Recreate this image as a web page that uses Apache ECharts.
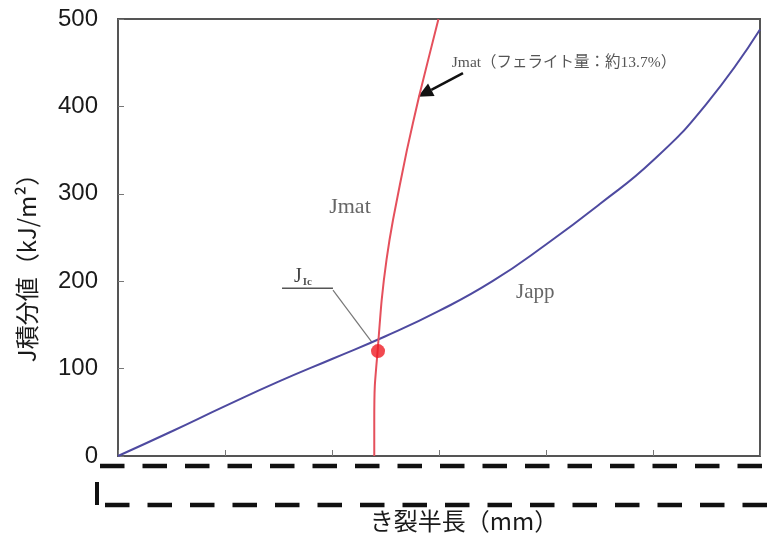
<!DOCTYPE html>
<html>
<head>
<meta charset="utf-8">
<script src="https://cdn.jsdelivr.net/npm/echarts@6/dist/echarts.min.js"></script>
<style>
html,body{margin:0;padding:0;background:#fff;}
#c{width:773px;height:538px;}
</style>
</head>
<body>
<div id="c"></div>
<script>
// ---- data ----
const yTicks = [0, 100, 200, 300, 400, 500];
const xTicks = [0, 1, 2, 3, 4, 5, 6];
const jappX = [0, 0.5, 1, 1.5, 2, 2.5, 3, 3.5, 4, 4.5, 5, 5.5, 6];
const jappY = [0, 28, 57, 85, 111, 137, 166, 200, 242, 288, 338, 403, 488];
const jmatX = [2.395, 2.395, 2.40, 2.427, 2.464, 2.51, 2.57, 2.70, 2.813, 2.995];
const jmatY = [0, 40, 80, 121, 178, 225, 270, 350, 411, 500];
const jicPoint = [2.43, 120];
const labels = {
  yName: 'J積分値（kJ/m²）',
  xName: 'き裂半長（mm）',
  jmat: 'Jmat',
  japp: 'Japp',
  jmatNote: 'Jmat（フェライト量：約13.7%）'
};

const chart = echarts.init(document.getElementById('c'), null, {renderer: 'canvas'});
const serif = "'Liberation Serif', 'DejaVu Serif', 'Noto Sans CJK JP', serif";
const sans = "'Liberation Sans', Arial, 'Noto Sans CJK JP', sans-serif";

chart.setOption({
  animation: false,
  backgroundColor: '#fff',
  grid: {left: 118, top: 19, right: 13, bottom: 82, show: true, borderColor: '#555', borderWidth: 2},
  xAxis: {
    type: 'value', min: xTicks[0], max: xTicks[xTicks.length - 1], interval: 1,
    axisLine: {lineStyle: {color: '#555', width: 2}},
    axisTick: {inside: true, length: 6, lineStyle: {color: '#777', width: 1}},
    axisLabel: {show: false},
    splitLine: {show: false}
  },
  yAxis: {
    type: 'value', min: yTicks[0], max: yTicks[yTicks.length - 1], interval: 100,
    axisLine: {show: true, lineStyle: {color: '#555', width: 2}},
    axisTick: {inside: true, length: 6, lineStyle: {color: '#777', width: 1}},
    axisLabel: {fontSize: 24, color: '#1a1a1a', margin: 20, fontFamily: sans},
    splitLine: {show: false}
  },
  series: [
    {
      type: 'line', name: 'Japp', data: jappX.map((x, i) => [x, jappY[i]]),
      smooth: 0.5, symbol: 'none', lineStyle: {color: '#4e4aa0', width: 2}, z: 3
    },
    {
      type: 'line', name: 'Jmat', data: jmatX.map((x, i) => [x, jmatY[i]]),
      smooth: 0.2, symbol: 'none', lineStyle: {color: '#e5505c', width: 2}, z: 4
    },
    {
      type: 'scatter', data: [jicPoint], symbolSize: 14,
      itemStyle: {color: '#ee1c24'}, z: 5
    }
  ]
});

function P(x, y) { return chart.convertToPixel({gridIndex: 0}, [x, y]); }

// annotation positions in data space
const jicLineA = P(1.533, 192), jicLineB = P(2.009, 192);
const leaderB = P(2.374, 130);
const arrowTail = P(3.224, 438), arrowTip = P(2.804, 411);
const noteAt = P(3.12, 450);
const jmatAt = P(2.168, 285);
const jappAt = P(3.90, 187);

const ang = Math.atan2(arrowTip[1] - arrowTail[1], arrowTip[0] - arrowTail[0]);
const hl = 15, hw = 7;
const baseX = arrowTip[0] - hl * Math.cos(ang), baseY = arrowTip[1] - hl * Math.sin(ang);
const head = [
  arrowTip,
  [baseX + hw * Math.sin(ang), baseY - hw * Math.cos(ang)],
  [baseX - hw * Math.sin(ang), baseY + hw * Math.cos(ang)]
];

const dashStyle = {stroke: '#111', lineWidth: 4.5, lineDash: [24.5, 18]};

chart.setOption({
  graphic: [
    // axis names
    {type: 'text', x: 27, y: 262, rotation: Math.PI / 2, style: {
      text: labels.yName, fill: '#1a1a1a', font: "24px 'Noto Sans CJK JP', sans-serif",
      textAlign: 'center', textVerticalAlign: 'middle'}},
    {type: 'text', x: 464, y: 521, style: {
      text: labels.xName, fill: '#1a1a1a', font: "24px 'Noto Sans CJK JP', sans-serif",
      textAlign: 'center', textVerticalAlign: 'middle'}},
    // broken-axis dashed decoration
    {type: 'line', shape: {x1: 100, y1: 466, x2: 766, y2: 466}, style: dashStyle},
    {type: 'line', shape: {x1: 105, y1: 505, x2: 773, y2: 505}, style: dashStyle},
    {type: 'rect', shape: {x: 95, y: 482, width: 4, height: 23}, style: {fill: '#111'}},
    // curve labels
    {type: 'text', x: jmatAt[0], y: jmatAt[1], style: {
      text: labels.jmat, fill: '#666', font: '22px ' + serif, textAlign: 'center', textVerticalAlign: 'middle'}},
    {type: 'text', x: jappAt[0], y: jappAt[1], style: {
      text: labels.japp, fill: '#666', font: '21px ' + serif, textAlign: 'center', textVerticalAlign: 'middle'}},
    {type: 'text', x: noteAt[0], y: noteAt[1], style: {
      text: labels.jmatNote, fill: '#555', font: '15.5px ' + serif, textAlign: 'left', textVerticalAlign: 'middle'}},
    // arrow
    {type: 'line', shape: {x1: arrowTail[0], y1: arrowTail[1], x2: baseX, y2: baseY},
      style: {stroke: '#111', lineWidth: 2.5}},
    {type: 'polygon', shape: {points: head}, style: {fill: '#111'}},
    // J_Ic annotation
    {type: 'line', shape: {x1: jicLineA[0], y1: jicLineA[1], x2: jicLineB[0], y2: jicLineB[1]},
      style: {stroke: '#555', lineWidth: 1.5}},
    {type: 'line', shape: {x1: jicLineB[0], y1: jicLineB[1] + 2, x2: leaderB[0], y2: leaderB[1]},
      style: {stroke: '#777', lineWidth: 1.2}},
    {type: 'text', x: jicLineA[0] + 12, y: jicLineA[1] - 1, style: {
      text: '{j|J}{s|Ic}', textAlign: 'left', textVerticalAlign: 'bottom',
      rich: {
        j: {font: '20px ' + serif, fill: '#444', verticalAlign: 'bottom'},
        s: {font: 'bold 11px ' + serif, fill: '#555', verticalAlign: 'bottom', padding: [0, 0, 0, 1]}
      }}}
  ]
});
</script>
</body>
</html>
